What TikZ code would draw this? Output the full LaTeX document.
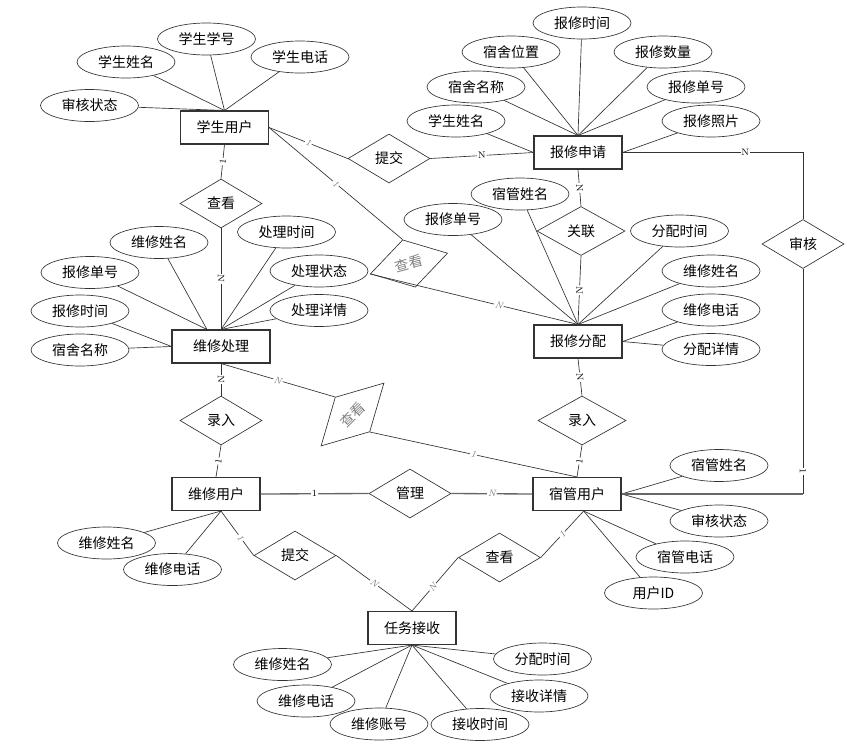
\documentclass[tikz,border=0pt]{standalone}
\usepackage{fontspec}
\newfontfamily\cjk{Noto Sans CJK SC}
\usetikzlibrary{shapes.geometric}

\begin{document}
\begin{tikzpicture}[x=0.75pt,y=-0.75pt,
  ent/.style={draw=black!80,line width=0.8pt,minimum width=66pt,minimum height=24.75pt,inner sep=1pt,font=\cjk\fontsize{10.5pt}{12pt}\selectfont},
  rel/.style={draw=black!80,line width=0.5pt,diamond,aspect=1.67,minimum width=61.5pt,minimum height=36.75pt,inner sep=1pt,font=\cjk\fontsize{10.5pt}{12pt}\selectfont},
  att/.style={draw=black!80,line width=0.5pt,ellipse,minimum width=73.5pt,minimum height=24pt,inner sep=1pt,font=\cjk\fontsize{10.5pt}{12pt}\selectfont},
  con/.style={draw=black!80,line width=0.5pt},
  bold/.style={draw=black!60,line width=1pt},
  lab/.style={fill=white,inner sep=0.6pt,font=\scriptsize,sloped},
  glab/.style={lab,text=gray,font=\scriptsize\itshape}]
\useasboundingbox (0,0) rectangle (854,747);

% entities
\node[ent] (SU) at (224.5,127.5) {学生用户};
\node[ent] (BS) at (578,152.5) {报修申请};
\node[ent,minimum width=73.5pt] (WC) at (221,346.5) {维修处理};
\node[ent] (BF) at (578,341.5) {报修分配};
\node[ent] (WU) at (216,494) {维修用户};
\node[ent] (SG) at (577,494) {宿管用户};
\node[ent] (RW) at (412,628) {任务接收};

% relations
\node[rel] (R1) at (221,203.5) {查看};
\node[rel] (R2) at (389,158.5) {提交};
\node[rel,rotate=15,minimum width=60pt,text=gray] (R3) at (409,263.5) {查看};
\node[rel,minimum width=66pt] (R4) at (581,231) {关联};
\node[rel] (R5) at (803,244) {审核};
\node[rel] (R6) at (221,420.5) {录入};
\node[rel,rotate=45,minimum width=66.75pt,text=gray] (R7) at (352.5,414.5) {查看};
\node[rel,minimum width=66pt] (R8) at (582,420.5) {录入};
\node[rel] (R9) at (410,493.5) {管理};
\node[rel] (R10) at (295,555.5) {提交};
\node[rel] (R11) at (499.5,557.5) {查看};

% attributes
\node[att] (SU1) at (89.5,105.5) {审核状态};
\node[att] (SU2) at (126,62) {学生姓名};
\node[att] (SU3) at (206.5,39) {学生学号};
\node[att] (SU4) at (300,57) {学生电话};

\node[att] (BS1) at (456,121) {学生姓名};
\node[att] (BS2) at (476,87) {宿舍名称};
\node[att] (BS3) at (511,52) {宿舍位置};
\node[att] (BS4) at (582,23) {报修时间};
\node[att] (BS5) at (663,52) {报修数量};
\node[att] (BS6) at (696,87) {报修单号};
\node[att] (BS7) at (711,121) {报修照片};

\node[att] (WC1) at (80,350) {宿舍名称};
\node[att] (WC2) at (80,311) {报修时间};
\node[att] (WC3) at (90,272.5) {报修单号};
\node[att] (WC4) at (159,242.5) {维修姓名};
\node[att] (WC5) at (286.5,232) {处理时间};
\node[att] (WC6) at (319,271) {处理状态};
\node[att] (WC7) at (319,310.5) {处理详情};

\node[att] (BF1) at (453,219.5) {报修单号};
\node[att] (BF2) at (520,194) {宿管姓名};
\node[att] (BF3) at (679.5,231) {分配时间};
\node[att] (BF4) at (711,271) {维修姓名};
\node[att] (BF5) at (711,310) {维修电话};
\node[att] (BF6) at (711,349.5) {分配详情};

\node[att] (WU1) at (106.5,543) {维修姓名};
\node[att] (WU2) at (172.5,569.5) {维修电话};

\node[att] (SG1) at (719,465.5) {宿管姓名};
\node[att] (SG2) at (719,521) {审核状态};
\node[att] (SG3) at (685,557) {宿管电话};
\node[att] (SG4) at (653.5,593) {用户ID};

\node[att] (RW1) at (282.5,664.5) {维修姓名};
\node[att] (RW2) at (306,701) {维修电话};
\node[att] (RW3) at (379,724) {维修账号};
\node[att] (RW4) at (480,724.5) {接收时间};
\node[att] (RW5) at (539,696) {接收详情};
\node[att] (RW6) at (542.5,659) {分配时间};

% attribute lines
\draw[con] (SU1) -- (SU.north);
\draw[con] (SU2) -- (SU.north);
\draw[con] (SU3) -- (SU.north);
\draw[con] (SU4) -- (SU.north);
\draw[con] (BS1) -- (BS.west);
\draw[con] (BS2) -- (BS.north);
\draw[con] (BS3) -- (BS.north);
\draw[con] (BS4) -- (BS.north);
\draw[con] (BS5) -- (BS.north);
\draw[con] (BS6) -- (BS.north);
\draw[con] (BS7) -- (BS.east);
\draw[con] (WC1) -- (WC.west);
\draw[con] (WC2) -- (WC.west);
\draw[con] (WC3) -- ([xshift=-10.5pt]WC.north);
\draw[con] (WC4) -- ([xshift=-10.5pt]WC.north);
\draw[con] (WC5) -- (WC.north);
\draw[con] (WC6) -- (WC.north);
\draw[con] (WC7) -- (WC.north);
\draw[con] (BF1) -- (BF.north);
\draw[con] (BF2) -- (BF.north);
\draw[con] (BF3) -- (BF.north);
\draw[con] (BF4) -- (BF.north);
\draw[con] (BF5) -- (BF.east);
\draw[con] (BF6) -- (BF.east);
\draw[con] (WU1) -- ([xshift=3.75pt]WU.south);
\draw[con] (WU2) -- ([xshift=3.75pt]WU.south);
\draw[con] (SG1) -- (SG.east);
\draw[con] (SG2) -- (SG.east);
\draw[con] (SG3) -- ([xshift=5pt]SG.south);
\draw[con] (SG4) -- ([xshift=5pt]SG.south);
\draw[con] (RW1) -- (RW.south);
\draw[con] (RW2) -- (RW.south);
\draw[con] (RW3) -- (RW.south);
\draw[con] (RW4) -- (RW.south);
\draw[con] (RW5) -- (RW.south);
\draw[con] (RW6) -- (RW.south);

% relation lines
\coordinate (C5) at (R5.south |- SG.east);
\draw[con] (SU.south) -- node[lab] {1} (R1.north);
\draw[con] (R1.south) -- node[lab] {N} (WC.north);
\draw[con] (SU.east) -- node[glab] {1} (R2.west);
\draw[con] (R2.east) -- node[lab] {N} (BS.west);
\draw[con] (SU.east) -- node[glab] {1} (R3.north);
\draw[con] (R3.west) -- node[glab,pos=0.62] {N} (BF.north);
\draw[con] (BS.south) -- node[lab] {N} (R4.north);
\draw[con] (R4.south) -- node[lab] {N} (BF.north);
\draw[con] (BS.east) -| node[lab,pos=0.34] {N} (R5.north);
\draw[con] (R5.south) -- node[lab,pos=0.9] {1} (C5);
\draw[bold] (C5) -- (SG.east);
\draw[con] (WC.south) -- node[lab] {N} (R6.north);
\draw[con] (R6.south) -- node[lab] {1} (WU.north);
\draw[con] (WC.south) -- node[glab] {N} (R7.north);
\draw[con] (R7.south) -- node[glab] {1} (SG.north);
\draw[con] (BF.south) -- node[lab] {N} (R8.north);
\draw[con] (R8.south) -- node[lab] {1} (SG.north);
\draw[bold] (WU.east) -- node[lab] {1} (R9.west);
\draw[bold] (R9.east) -- node[glab] {N} (SG.west);
\draw[con] ([xshift=3.75pt]WU.south) -- node[glab,pos=0.6] {1} (R10.west);
\draw[con] (R10.east) -- node[glab] {N} (RW.north);
\draw[con] (R11.east) -- node[glab] {1} ([xshift=5pt]SG.south);
\draw[con] (R11.west) -- node[glab,pos=0.55] {N} (RW.north);
\end{tikzpicture}
\end{document}
